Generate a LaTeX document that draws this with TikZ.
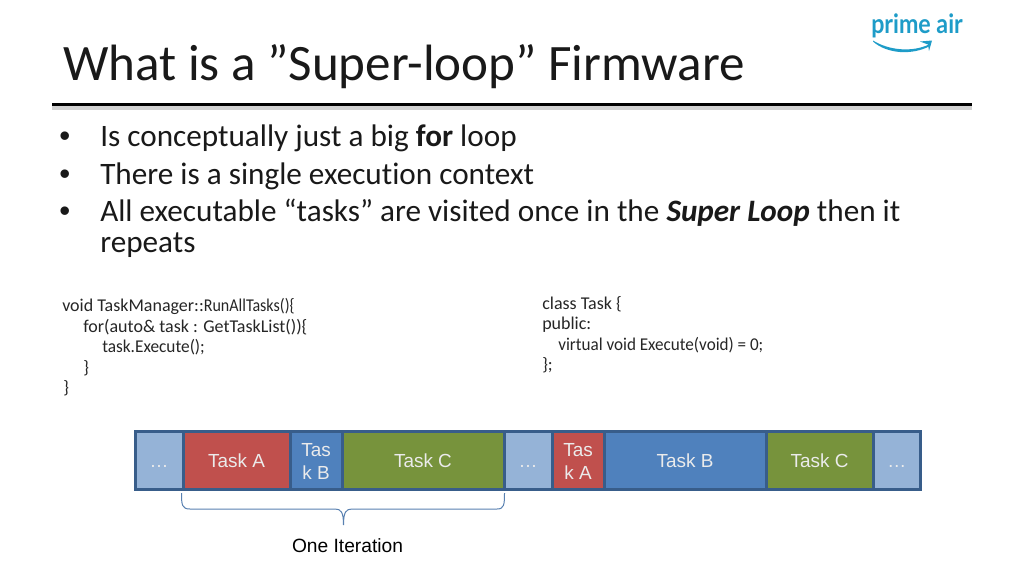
\documentclass[tikz,border=0pt]{standalone}
\usepackage{fontspec}
\usetikzlibrary{calc}
\setmainfont{Carlito}[Ligatures=NoCommon]
\newfontfamily\arialf{Liberation Sans}
\newfontfamily\logof{Lato}
\definecolor{edgeblue}{HTML}{385D8A}
\definecolor{lightcell}{HTML}{95B3D7}
\definecolor{redcell}{HTML}{C0504D}
\definecolor{bluecell}{HTML}{4F81BD}
\definecolor{greencell}{HTML}{77933C}
\definecolor{logoblue}{HTML}{1E9CC8}
\tikzset{
  x=0.75pt,y=-0.75pt,
  titletext/.style={anchor=base west,inner sep=0,text=black!90,font=\fontsize{38.3}{38.3}\selectfont},
  bullettext/.style={anchor=base west,inner sep=0,text=black!90,font=\fontsize{23.4}{23.4}\selectfont},
  bulletmark/.style={anchor=base west,inner sep=0,text=black!90,font=\arialf\fontsize{23.4}{23.4}\selectfont},
  codetext/.style={anchor=base west,inner sep=0,text=black!85,font=\fontsize{13.5}{13.5}\selectfont},
  cell/.style={draw=edgeblue,line width=2.25pt,inner sep=0,minimum height=43.5pt},
  celltext/.style={text=white!92!black,align=center,inner sep=0,font=\arialf\fontsize{14.2}{17.3}\selectfont},
  bracepath/.style={draw=bluecell!80!gray,line width=0.75pt},
}
\newcommand{\taskcell}[5]{\node[cell,fill=#3,minimum width={(#2-#1)*0.75pt}] (#4) at ({(#1+#2)/2},460) {};\node[celltext] (#4t) at ($(#4.center)+(0,1.2)$) {#5};}
\newcommand{\dotstext}{\vphantom{T}…}
\begin{document}
\begin{tikzpicture}
\useasboundingbox (0,0) rectangle (1024,576);
\fill[white] (0,0) rectangle (1024,576);
% title
\node[titletext] (title) at (63,80) {What is a ”Super-loop” Firmware};
\coordinate (ruleL) at (52,104.5);
\coordinate (ruleR) at (972,104.5);
\draw[black!18,line width=3pt] ($(ruleL)+(0,3)$) -- ($(ruleR)+(0,3)$);
\draw[black,line width=2.25pt] (ruleL) -- (ruleR);
% logo
\node[anchor=base west,inner sep=0,text=logoblue] (logo) at (871,33) {\logof\bfseries\fontsize{20}{20}\selectfont\scalebox{0.87}[1]{prime air}};
\fill[logoblue] (873,40.5) .. controls (888,50) and (912,53) .. (930,44) -- (930,46) .. controls (912,55.5) and (887,54) .. (873,41.5) -- cycle;
\fill[logoblue] (920,41.5) -- (932,40.5) -- (929,51) -- (928,44.5) -- cycle;
% bullets
\node[bulletmark] (b1m) at (59,146) {•};
\node[bullettext] (b1) at (100,146) {Is conceptually just a big \textbf{for} loop};
\node[bulletmark] (b2m) at (59,184) {•};
\node[bullettext] (b2) at (100,184) {There is a single execution context};
\node[bulletmark] (b3m) at (59,221) {•};
\node[bullettext] (b3) at (100,221) {All executable “tasks” are visited once in the \textbf{\textit{Super Loop}} then it};
\node[bullettext] (b3b) at (100,252) {repeats};
% code left
\node[codetext] (l1) at (62,311) {void TaskManager::\scalebox{0.89}[1]{RunAllTasks()\{}};
\node[codetext] (l2) at (83,332) {for(auto\& task : GetTaskList())\{};
\node[codetext] (l3) at (102,352) {\scalebox{0.96}[1]{task.Execute();}};
\node[codetext] (l4) at (83,373) {\}};
\node[codetext] (l5) at (63,393) {\}};
% code right
\node[codetext] (r1) at (542,309) {class Task \{};
\node[codetext] (r2) at (542,329) {public:};
\node[codetext] (r3) at (558,350) {\scalebox{0.95}[1]{virtual void Execute(void) = 0;}};
\node[codetext] (r4) at (542,370) {\};};
% task bar
\taskcell{135}{183}{lightcell}{d1}{\dotstext}
\taskcell{183}{290}{redcell}{a1}{Task A}
\taskcell{290}{342}{bluecell}{b1c}{Tas\\k B}
\taskcell{342}{504}{greencell}{c1}{Task C}
\taskcell{504}{552}{lightcell}{d2}{\dotstext}
\taskcell{552}{604}{redcell}{a2}{Tas\\k A}
\taskcell{604}{766}{bluecell}{b2c}{Task B}
\taskcell{766}{873}{greencell}{c2}{Task C}
\taskcell{873}{920.5}{lightcell}{d3}{\dotstext}
% brace
\draw[bracepath] (181.5,493) .. controls (181.5,505) and (182,509) .. (190,509) -- (335,509) .. controls (341,509) and (343.5,512) .. (343.5,525) .. controls (343.5,512) and (346,509) .. (352,509) -- (497,509) .. controls (504,509) and (504.5,505) .. (504.5,493);
\node[anchor=base,inner sep=0,font=\arialf\fontsize{14.4}{14.4}\selectfont] (iter) at (347.5,552) {One Iteration};
\end{tikzpicture}
\end{document}
